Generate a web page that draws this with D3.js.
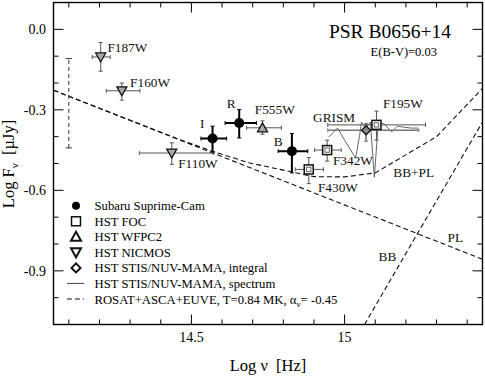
<!DOCTYPE html>
<html><head><meta charset="utf-8">
<script src="https://cdn.jsdelivr.net/npm/d3@7"></script>
<style>
body{margin:0;background:#fff;}
svg{display:block;font-family:"Liberation Serif","Times New Roman",serif;}
</style></head>
<body><svg id="c" width="485" height="377"></svg>
<script>
// ---- data (log nu [Hz], log F_nu [uJy]) ----
const subaruNames = ["I","R","B"];
const subaruNu   = [14.569, 14.656, 14.828];
const subaruF    = [-0.407, -0.349, -0.454];
const subaruNuLo = [14.531, 14.610, 14.783];
const subaruNuHi = [14.615, 14.712, 14.880];
const subaruFLo  = [-0.457, -0.405, -0.535];
const subaruFHi  = [-0.361, -0.299, -0.388];

const focNames = ["F430W","F342W","F195W"];
const focNu    = [14.883, 14.943, 15.104];
const focF     = [-0.522, -0.450, -0.356];
const focNuLo  = [14.839, 14.902, 14.945];
const focNuHi  = [14.931, 14.989, 15.264];
const focFLo   = [-0.575, -0.491, -0.413];
const focFHi   = [-0.478, -0.413, -0.305];

const wfpcNames = ["F555W"];
const wfpcNu    = [14.732];
const wfpcF     = [-0.367];
const wfpcNuLo  = [14.680];
const wfpcNuHi  = [14.794];
const wfpcFLo   = [-0.391];
const wfpcFHi   = [-0.341];

const nicNames = ["F110W","F160W","F187W"];
const nicNu    = [14.436, 14.273, 14.204];
const nicF     = [-0.461, -0.229, -0.103];
const nicNuLo  = [14.330, 14.222, 14.176];
const nicNuHi  = [14.571, 14.332, 14.235];
const nicFLo   = [-0.503, -0.264, -0.156];
const nicFHi   = [-0.423, -0.200, -0.049];

const stisNu   = [15.070];
const stisF    = [-0.376];
const stisNuLo = [14.945];
const stisNuHi = [15.242];
const stisFLo  = [-0.417];
const stisFHi  = [-0.351];

const specNu = [14.948, 14.977, 15.000, 15.036, 15.049, 15.055, 15.068, 15.084, 15.097, 15.110, 15.130, 15.153, 15.172, 15.195, 15.218, 15.241];
const specF  = [-0.402, -0.368, -0.413, -0.480, -0.395, -0.346, -0.368, -0.346, -0.551, -0.346, -0.353, -0.383, -0.361, -0.365, -0.368, -0.368];

const plNu = [14.05, 15.45];
const plF  = [-0.227, -0.857];
const bbNu = [15.065, 15.45];
const bbF  = [-1.10, -0.345];
const bbplNu = [14.05, 14.46, 14.57, 14.69, 14.90, 15.00, 15.10, 15.30, 15.45];
const bbplF  = [-0.227, -0.410, -0.455, -0.498, -0.549, -0.550, -0.535, -0.400, -0.220];

const rangeNu = [14.1];
const rangeFLo = [-0.442];
const rangeFHi = [-0.109];

const xTicksMajor = [14.5, 15];
const xTickLabels = ["14.5", "15"];
const yTicksMajor = [0.0, -0.3, -0.6, -0.9];
const yTickLabels = ["0.0", "-0.3", "-0.6", "-0.9"];

const annText = ["F187W","F160W","F110W","I","R","F555W","B","GRISM","F195W","F342W","F430W","BB+PL","PL","BB"];
const annNu   = [14.226, 14.300, 14.457, 14.528, 14.615, 14.707, 14.769, 14.897, 15.125, 14.962, 14.913, 15.159, 15.336, 15.111];
const annF    = [-0.084, -0.215, -0.516, -0.367, -0.295, -0.317, -0.436, -0.347, -0.295, -0.504, -0.608, -0.552, -0.792, -0.864];

// ---- layout ----
const L = 53.5, R = 482.5, T = 2.5, B = 324.5;
const svg = d3.select("#c");
const x = d3.scaleLinear().domain([14.05, 15.45]).range([L, R]);
const y = d3.scaleLinear().domain([-1.1, 0.1]).range([B, T]);

svg.append("defs").append("clipPath").attr("id","clip")
  .append("rect").attr("x",L).attr("y",T).attr("width",R-L).attr("height",B-T);
const g = svg.append("g").attr("clip-path","url(#clip)");

const line = d3.line().x(d=>x(d[0])).y(d=>y(d[1]));
const zip = (a,b)=>a.map((v,i)=>[v,b[i]]);

// model lines
[[plNu,plF],[bbNu,bbF],[bbplNu,bbplF]].forEach(([a,b])=>{
  g.append("path").attr("d", line(zip(a,b))).attr("fill","none")
   .attr("stroke","#111").attr("stroke-width",1.1).attr("stroke-dasharray","5,3");
});

// dashed range bar
rangeNu.forEach((v,i)=>{
  g.append("line").attr("x1",x(v)).attr("x2",x(v)).attr("y1",y(rangeFLo[i])).attr("y2",y(rangeFHi[i]))
   .attr("stroke","#333").attr("stroke-width",1).attr("stroke-dasharray","4,3");
  [rangeFLo[i],rangeFHi[i]].forEach(f=>g.append("line").attr("x1",x(v)-3).attr("x2",x(v)+3)
   .attr("y1",y(f)).attr("y2",y(f)).attr("stroke","#333").attr("stroke-width",1));
});

// spectrum
g.append("path").attr("d", line(zip(specNu,specF))).attr("fill","none")
 .attr("stroke","#555").attr("stroke-width",0.9);

function errbars(nu,f,nlo,nhi,flo,fhi,color,w,cap){
  nu.forEach((v,i)=>{
    const cx=x(v), cy=y(f[i]);
    g.append("line").attr("x1",x(nlo[i])).attr("x2",x(nhi[i])).attr("y1",cy).attr("y2",cy)
      .attr("stroke",color).attr("stroke-width",w);
    g.append("line").attr("x1",cx).attr("x2",cx).attr("y1",y(flo[i])).attr("y2",y(fhi[i]))
      .attr("stroke",color).attr("stroke-width",w);
    [x(nlo[i]),x(nhi[i])].forEach(px=>g.append("line").attr("x1",px).attr("x2",px)
      .attr("y1",cy-cap).attr("y2",cy+cap).attr("stroke",color).attr("stroke-width",1));
    [y(flo[i]),y(fhi[i])].forEach(py=>g.append("line").attr("y1",py).attr("y2",py)
      .attr("x1",cx-cap).attr("x2",cx+cap).attr("stroke",color).attr("stroke-width",1));
  });
}
errbars(stisNu,stisF,stisNuLo,stisNuHi,stisFLo,stisFHi,"#777",1.6,2);
errbars(nicNu,nicF,nicNuLo,nicNuHi,nicFLo,nicFHi,"#555",1,2);
errbars(wfpcNu,wfpcF,wfpcNuLo,wfpcNuHi,wfpcFLo,wfpcFHi,"#555",1,2);
errbars(focNu,focF,focNuLo,focNuHi,focFLo,focFHi,"#555",1,2);
errbars(subaruNu,subaruF,subaruNuLo,subaruNuHi,subaruFLo,subaruFHi,"#000",2,2);

// symbols
function sym(sel,type,cx,cy,legend){
  const s = legend?1:1;
  if(type==="circle"){
    sel.append("circle").attr("cx",cx).attr("cy",cy).attr("r",legend?4:5).attr("fill","#000");
  } else if(type==="square"){
    sel.append("rect").attr("x",cx-4.5).attr("y",cy-4.5).attr("width",9).attr("height",9)
      .attr("fill","#fff").attr("stroke","#111").attr("stroke-width",1.5);
    if(!legend) sel.append("rect").attr("x",cx-2.2).attr("y",cy-2.2).attr("width",4.4).attr("height",4.4)
      .attr("fill","none").attr("stroke","#666").attr("stroke-width",1);
  } else if(type==="up"){
    sel.append("path").attr("d",`M${cx},${cy-5}L${cx+5},${cy+4}L${cx-5},${cy+4}Z`)
      .attr("fill",legend?"#fff":"#aaa").attr("stroke","#111").attr("stroke-width",legend?2:1.3);
  } else if(type==="down"){
    sel.append("path").attr("d",`M${cx},${cy+5}L${cx+5},${cy-4}L${cx-5},${cy-4}Z`)
      .attr("fill",legend?"#fff":"#aaa").attr("stroke","#111").attr("stroke-width",legend?2:1.3);
  } else if(type==="diamond"){
    sel.append("path").attr("d",`M${cx},${cy-4.5}L${cx+4.5},${cy}L${cx},${cy+4.5}L${cx-4.5},${cy}Z`)
      .attr("fill",legend?"#fff":"#888").attr("stroke","#111").attr("stroke-width",legend?2:1.3);
  }
}
wfpcNu.forEach((v,i)=>sym(g,"up",x(v),y(wfpcF[i])));
nicNu.forEach((v,i)=>sym(g,"down",x(v),y(nicF[i])));
stisNu.forEach((v,i)=>sym(g,"diamond",x(v),y(stisF[i])));
focNu.forEach((v,i)=>sym(g,"square",x(v),y(focF[i])));
subaruNu.forEach((v,i)=>sym(g,"circle",x(v),y(subaruF[i])));

// annotations
annText.forEach((t,i)=>{
  svg.append("text").attr("x",x(annNu[i])).attr("y",y(annF[i])).attr("font-size",13.3)
    .attr("fill","#111").text(t);
});
svg.append("text").attr("x",451).attr("y",37.5).attr("text-anchor","end").attr("font-size",19.5).text("PSR B0656+14");
svg.append("text").attr("x",437).attr("y",56).attr("text-anchor","end").attr("font-size",12.5).text("E(B-V)=0.03");

// legend
const legTypes = ["circle","square","up","down","diamond","line","dash"];
const legText = ["Subaru Suprime-Cam","HST FOC","HST WFPC2","HST NICMOS","HST STIS/NUV-MAMA, integral","HST STIS/NUV-MAMA, spectrum"];
const lg = svg.append("g");
legTypes.forEach((t,i)=>{
  const cy = 205.7 + i*15.55;
  if(t==="line"){
    lg.append("line").attr("x1",67).attr("x2",84).attr("y1",cy).attr("y2",cy).attr("stroke","#444").attr("stroke-width",1);
  } else if(t==="dash"){
    lg.append("line").attr("x1",67).attr("x2",84).attr("y1",cy).attr("y2",cy).attr("stroke","#111")
      .attr("stroke-width",1.1).attr("stroke-dasharray","5,3");
  } else sym(lg,t,76,cy,true);
  if(i<legText.length){
    lg.append("text").attr("x",94.5).attr("y",cy+4.5).attr("font-size",12.7).text(legText[i]);
  } else {
    const tx = lg.append("text").attr("x",94.5).attr("y",cy+4.5).attr("font-size",12.7);
    tx.append("tspan").text("ROSAT+ASCA+EUVE, T=0.84 MK, α");
    tx.append("tspan").attr("font-size",9).attr("dy",3).text("ν");
    tx.append("tspan").attr("dy",-3).text("= -0.45");
  }
});

// frame & ticks
svg.append("rect").attr("x",L).attr("y",T).attr("width",R-L).attr("height",B-T)
  .attr("fill","none").attr("stroke","#000").attr("stroke-width",1.4);
const minorX = d3.range(14.1, 15.41, 0.1).map(v=>+v.toFixed(2));
const minorY = d3.range(0, -1.01, -0.1).map(v=>+v.toFixed(2));
const tk = svg.append("g").attr("stroke","#000").attr("stroke-width",1);
minorX.forEach(v=>{
  const len = xTicksMajor.some(m=>Math.abs(m-v)<1e-6)?10:5;
  tk.append("line").attr("x1",x(v)).attr("x2",x(v)).attr("y1",B).attr("y2",B-len);
  tk.append("line").attr("x1",x(v)).attr("x2",x(v)).attr("y1",T).attr("y2",T+len);
});
minorY.forEach(v=>{
  const len = yTicksMajor.some(m=>Math.abs(m-v)<1e-6)?10:5;
  tk.append("line").attr("y1",y(v)).attr("y2",y(v)).attr("x1",L).attr("x2",L+len);
  tk.append("line").attr("y1",y(v)).attr("y2",y(v)).attr("x1",R).attr("x2",R-len);
});
xTicksMajor.forEach((v,i)=>svg.append("text").attr("x",x(v)).attr("y",342).attr("text-anchor","middle")
  .attr("font-size",14).text(xTickLabels[i]));
yTicksMajor.forEach((v,i)=>svg.append("text").attr("x",46).attr("y",y(v)+5).attr("text-anchor","end")
  .attr("font-size",14).text(yTickLabels[i]));

// axis titles
const xt = svg.append("text").attr("x",268).attr("y",371).attr("text-anchor","middle").attr("font-size",16.5);
xt.text("Log ν  [Hz]").attr("xml:space","preserve").style("white-space","pre");
const yt = svg.append("text").attr("transform","translate(14,164) rotate(-90)").attr("text-anchor","middle")
  .attr("font-size",16.5).style("white-space","pre");
yt.append("tspan").text("Log F");
yt.append("tspan").attr("font-size",11).attr("dy",4).text("ν");
yt.append("tspan").attr("dy",-4).text("  [µJy]");
</script></body></html>
